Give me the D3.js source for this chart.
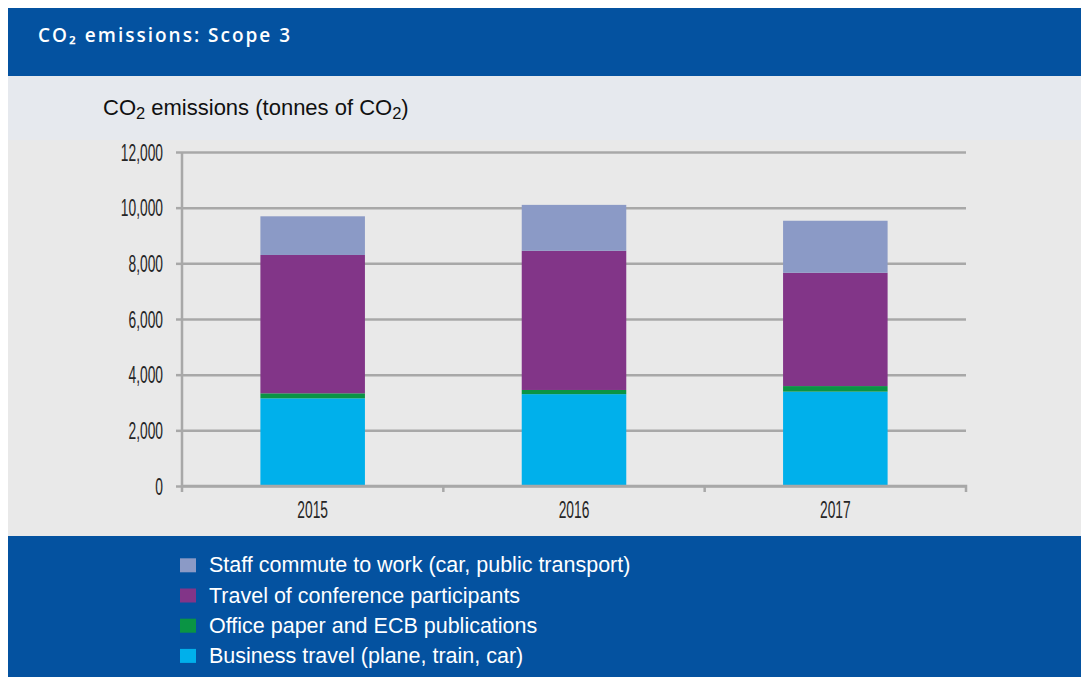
<!DOCTYPE html>
<html>
<head>
<meta charset="utf-8">
<script src="https://cdn.jsdelivr.net/npm/d3@7"></script>
<style>
    body { margin: 0; background: #ffffff; }
    .tick text { font-family: "Liberation Sans", Arial, sans-serif; fill: #262626; }
    .lbl { font-family: "Liberation Sans", Arial, sans-serif; }
</style>
</head>
<body>
<div id="visualisation"></div>
<script>
var years = ["2015", "2016", "2017"];

var seriesNames = [
    "Business travel (plane, train, car)",
    "Office paper and ECB publications",
    "Travel of conference participants",
    "Staff commute to work (car, public transport)"
];

var businessTravel = [3150, 3300, 3390];
var officePaper = [180, 150, 200];
var conferenceTravel = [4970, 5000, 4070];
var staffCommute = [1390, 1650, 1870];

var yTicks = [0, 2000, 4000, 6000, 8000, 10000, 12000];

var colours = ["#00b0eb", "#0a9444", "#823588", "#8b9ac6"];

var width = 1081;
var height = 677;
var blue = "#0452a0";
var gridColour = "#a8a8a8";

var plotLeft = 182, plotRight = 966, plotTop = 152, plotBottom = 486;
var squeeze = 0.6;

var svg = d3.select("#visualisation")
    .append("svg")
        .attr("width", width)
        .attr("height", height);

// backgrounds
svg.append("rect").attr("x", 8).attr("y", 8).attr("width", width - 8).attr("height", 68).attr("fill", blue);
svg.append("rect").attr("x", 8).attr("y", 76).attr("width", width - 8).attr("height", 64).attr("fill", "#e6e9ee");
svg.append("rect").attr("x", 8).attr("y", 140).attr("width", width - 8).attr("height", 396).attr("fill", "#e9e9e9");
svg.append("rect").attr("x", 8).attr("y", 536).attr("width", width - 8).attr("height", height - 536).attr("fill", blue);

// titles
var t1 = svg.append("text")
        .attr("x", 38)
        .attr("y", 42)
        .style("font-family", "'Open Sans', sans-serif")
        .style("font-size", "19px")
        .style("font-weight", "600")
        .style("letter-spacing", "2px")
        .style("fill", "#ffffff");
t1.append("tspan").text("CO");
t1.append("tspan").text("₂");
t1.append("tspan").text(" emissions: Scope 3");

var t2 = svg.append("text")
        .attr("class", "lbl")
        .attr("x", 103)
        .attr("y", 115)
        .style("font-size", "22px")
        .style("fill", "#111111");
t2.append("tspan").text("CO");
t2.append("tspan").text("2").attr("dy", 4).style("font-size", "16.5px");
t2.append("tspan").text(" emissions (tonnes of CO").attr("dy", -4);
t2.append("tspan").text("2").attr("dy", 4).style("font-size", "16.5px");
t2.append("tspan").text(")").attr("dy", -4);

// scales
var xScale = d3.scaleBand()
    .domain(years)
    .range([plotLeft, plotRight])
    .paddingInner(0.6)
    .paddingOuter(0.3);

var xBand = d3.scaleBand()
    .domain(years)
    .range([plotLeft, plotRight]);

var yScale = d3.scaleLinear()
    .domain([0, 12000])
    .range([plotBottom, plotTop]);

// grid
svg.append("g")
        .attr("class", "grid")
        .attr("transform", "translate(" + plotLeft + ", 0)")
    .call(d3.axisLeft(yScale)
        .tickValues(yTicks)
        .tickSize(-(plotRight - plotLeft))
        .tickFormat("")
    )
    .call(function (g) {
        g.select(".domain").remove();
        g.selectAll("line").attr("stroke", gridColour).attr("stroke-width", 2.5);
    });

// stacked bars
var rows = years.map(function (y, i) {
    return { year: y, s0: businessTravel[i], s1: officePaper[i], s2: conferenceTravel[i], s3: staffCommute[i] };
});

var stack = d3.stack().keys(["s0", "s1", "s2", "s3"]);
var layers = stack(rows);

svg.selectAll("g.layer")
    .data(layers)
    .enter()
    .append("g")
        .attr("class", "layer")
        .attr("fill", function (d, i) { return colours[i]; })
    .selectAll("rect")
    .data(function (d) { return d; })
    .enter()
    .append("rect")
        .attr("x", function (d) { return xScale(d.data.year); })
        .attr("width", xScale.bandwidth())
        .attr("y", function (d) { return yScale(d[1]); })
        .attr("height", function (d) { return yScale(d[0]) - yScale(d[1]); });

// y axis
svg.append("g")
        .attr("class", "y axis")
        .attr("transform", "translate(" + plotLeft + ", 0)")
    .call(d3.axisLeft(yScale)
        .tickValues(yTicks)
        .tickSize(6)
        .tickPadding(13)
        .tickFormat(d3.format(","))
    )
    .call(function (g) {
        g.select(".domain").attr("stroke", gridColour).attr("stroke-width", 2.5)
            .attr("d", "M0," + plotTop + "V" + (plotBottom + 6));
        g.selectAll(".tick line").attr("stroke", gridColour).attr("stroke-width", 2.5);
        g.selectAll(".tick text")
            .style("font-size", "23px")
            .attr("x", -19 / squeeze)
            .attr("dy", "0.36em")
            .attr("transform", "scale(" + squeeze + ",1)");
    });

// x axis
svg.append("g")
        .attr("class", "x axis")
        .attr("transform", "translate(0," + plotBottom + ")")
    .call(d3.axisBottom(xBand)
        .tickSize(0)
        .tickPadding(16)
    )
    .call(function (g) {
        g.select(".domain").attr("stroke", gridColour).attr("stroke-width", 2.5)
            .attr("d", "M" + plotLeft + ",0H" + plotRight + "V6");
        g.selectAll(".tick text")
            .style("font-size", "23px")
            .attr("transform", "scale(" + squeeze + ",1)");
    });

// category separators
svg.append("g")
    .selectAll("line")
    .data(years.slice(1))
    .enter()
    .append("line")
        .attr("x1", function (d) { return xBand(d); })
        .attr("x2", function (d) { return xBand(d); })
        .attr("y1", plotBottom)
        .attr("y2", plotBottom + 6)
        .attr("stroke", gridColour)
        .attr("stroke-width", 2.5);

// legend
var legendOrder = [3, 2, 1, 0];
var legend = svg.append("g")
    .selectAll("g")
    .data(legendOrder)
    .enter()
    .append("g")
        .attr("transform", function (d, i) { return "translate(180," + (572.3 + i * 30.2) + ")"; });

legend.append("rect")
    .attr("x", 0)
    .attr("y", -14)
    .attr("width", 16)
    .attr("height", 14)
    .attr("fill", function (d) { return colours[d]; });

legend.append("text")
    .attr("class", "lbl")
    .attr("x", 29)
    .attr("y", 0)
    .style("font-size", "21.5px")
    .style("fill", "#ffffff")
    .text(function (d) { return seriesNames[d]; });
</script>
</body>
</html>
